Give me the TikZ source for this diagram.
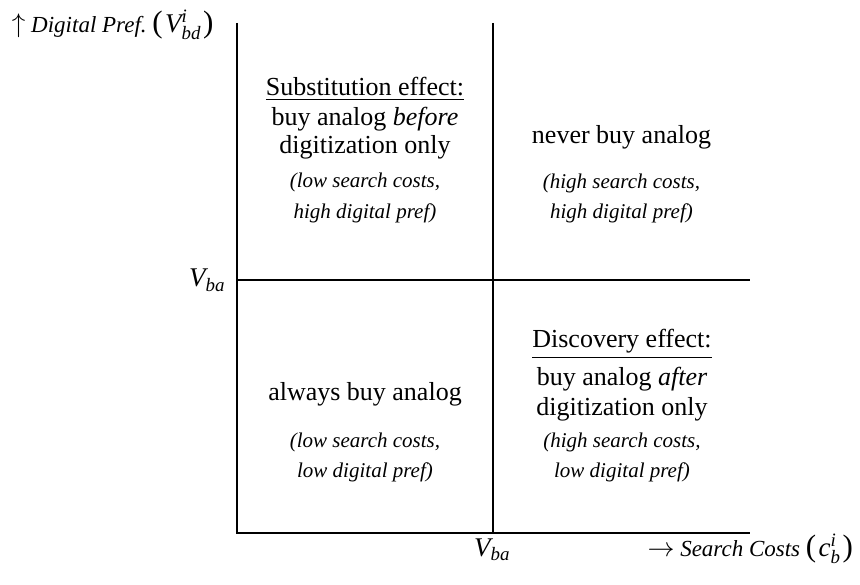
\RequirePackage{fix-cm}
\documentclass[tikz,border=0pt]{standalone}
\usepackage{amsmath}
\usepackage{fontspec}
\setmainfont{Liberation Serif}
% italic variable names set in the text font
\newcommand\vr[1]{\textit{#1}}
% tall text parentheses round an axis variable
\newcommand\tallpar[1]{{\fontsize{31}{31}\selectfont(}\kern2.5pt#1\kern2pt{\fontsize{31}{31}\selectfont)}}
\begin{document}
\begin{tikzpicture}[x=1pt,y=-1pt,
  every node/.style={inner sep=0pt, outer sep=0pt},
  axis/.style={line width=1.2pt},
  mainline/.style={anchor=base, font=\fontsize{26}{30}\selectfont},
  noteline/.style={anchor=base, font=\fontsize{21}{25}\selectfont\itshape},
  axislabel/.style={font=\fontsize{23}{27}\selectfont},
  cutlabel/.style={font=\fontsize{27}{31}\selectfont}]
\useasboundingbox (0,0) rectangle (860,585);

% frame of the quadrant chart
\coordinate (Top) at (237,23);
\coordinate (O) at (237,533);
\coordinate (End) at (750,533);
\coordinate (MidTop) at (493,23);
\coordinate (MidBot) at (493,533);
\coordinate (MidL) at (237,280);
\coordinate (MidR) at (750,280);
\draw[axis] (Top) -- (O) -- (End);
\draw[axis] (MidTop) -- (MidBot);
\draw[axis] (MidL) -- (MidR);

% axis labels and thresholds
\node[axislabel, anchor=base west] (ylab) at (12,33)
  {{\fontsize{27}{31}\selectfont$\uparrow$} \textit{Digital Pref.}\ \tallpar{{\fontsize{27}{31}\selectfont$\vr{V}^{\vr{i}}_{\vr{bd}}$}}};
\node[axislabel, anchor=base east] (xlab) at (853,556)
  {{\fontsize{27}{31}\selectfont$\rightarrow$} \textit{Search Costs}\ \tallpar{{\fontsize{27}{31}\selectfont$\vr{c}^{\vr{i}}_{\vr{b}}$}}};
\node[cutlabel, anchor=base east] (ycut) at (225,287) {$\vr{V}_{\vr{ba}}$};
\node[cutlabel, anchor=base] (xcut) at (492,556) {$\vr{V}_{\vr{ba}}$};

% upper left: substitution effect
\node[mainline] (ul1) at (365,96) {\underline{Substitution effect:}};
\node[mainline] (ul2) at (365,126) {buy analog \textit{before}};
\node[mainline] (ul3) at (365,154) {digitization only};
\node[noteline] (ul4) at (365,188) {(low search costs,};
\node[noteline] (ul5) at (365,219) {high digital pref)};

% upper right
\node[mainline] (ur1) at (621.5,144) {never buy analog};
\node[noteline] (ur2) at (621.5,189) {(high search costs,};
\node[noteline] (ur3) at (621.5,219) {high digital pref)};

% lower left
\node[mainline] (ll1) at (365,400) {always buy analog};
\node[noteline] (ll2) at (365,447) {(low search costs,};
\node[noteline] (ll3) at (365,477) {low digital pref)};

% lower right: discovery effect
\node[mainline] (lr1) at (622,348) {\underline{Discovery effect:}};
\node[mainline] (lr2) at (622,385) {buy analog \textit{after}};
\node[mainline] (lr3) at (622,416) {digitization only};
\node[noteline] (lr4) at (622,447) {(high search costs,};
\node[noteline] (lr5) at (622,477) {low digital pref)};
\end{tikzpicture}
\end{document}
